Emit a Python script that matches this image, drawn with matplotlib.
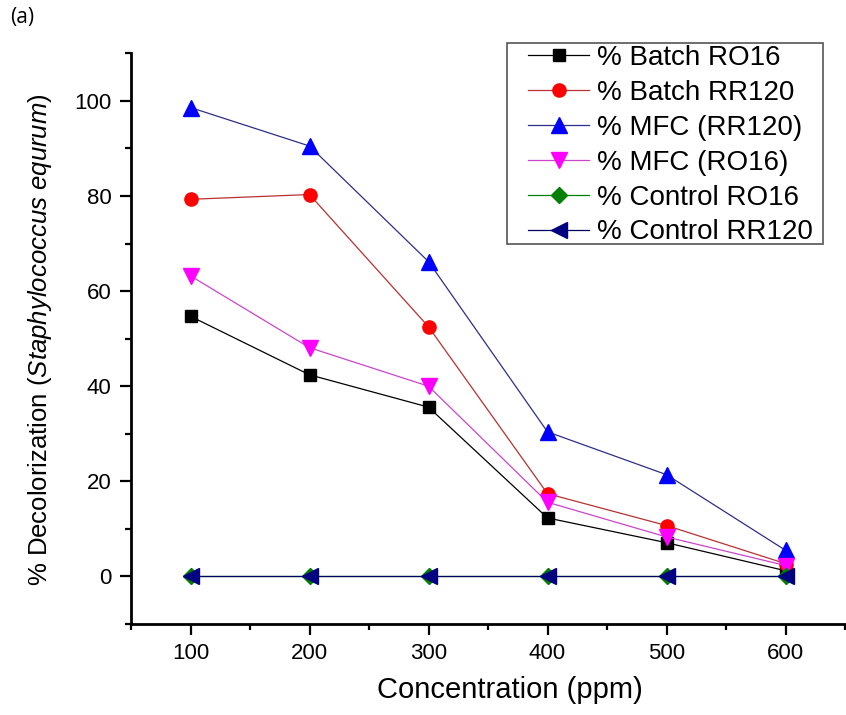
import matplotlib
matplotlib.use("Agg")
import matplotlib.pyplot as plt
from matplotlib.ticker import MultipleLocator
from matplotlib.patches import Rectangle

plt.rcParams['font.family'] = ['Liberation Sans', 'DejaVu Sans']
plt.rcParams['mathtext.fontset'] = 'custom'
plt.rcParams['mathtext.rm'] = 'Liberation Sans'
plt.rcParams['mathtext.it'] = 'Liberation Sans:italic'

concentration = [100, 200, 300, 400, 500, 600]
batch_ro16 = [54.7, 42.4, 35.6, 12.3, 7.1, 1.2]
batch_rr120 = [79.3, 80.3, 52.5, 17.4, 10.7, 2.7]
mfc_rr120 = [98.6, 90.5, 66.2, 30.4, 21.4, 5.5]
mfc_ro16 = [63.2, 48.1, 40.0, 15.6, 8.3, 2.3]
control_ro16 = [0, 0, 0, 0, 0, 0]
control_rr120 = [0, 0, 0, 0, 0, 0]

labels = ['% Batch RO16', '% Batch RR120', '% MFC (RR120)', '% MFC (RO16)',
          '% Control RO16', '% Control RR120']

W, H = 846, 715
fig = plt.figure(figsize=(W/100, H/100), dpi=100)
ax = fig.add_axes([131/W, 1-624/H, (845-131)/W, (624-53.3)/H])

series = [
    (batch_ro16, 's', 'black', 'black', 8.5),
    (batch_rr120, 'o', 'red', '#b83030', 9.5),
    (mfc_rr120, '^', 'blue', '#2e2e8a', 11),
    (mfc_ro16, 'v', 'magenta', '#cc44cc', 11),
    (control_ro16, 'D', 'green', 'green', 8),
    (control_rr120, '<', 'navy', '#000060', 11),
]
for (vals, mk, mc, lc, ms), lab in zip(series, labels):
    ax.plot(concentration, vals, color=lc, lw=0.9, marker=mk, ms=ms,
            markerfacecolor=mc, markeredgecolor=mc, label=lab)

ax.set_xlim(50, 650)
ax.set_ylim(-10, 110)
ax.xaxis.set_minor_locator(MultipleLocator(50))
ax.yaxis.set_minor_locator(MultipleLocator(10))
ax.set_xticks([100, 200, 300, 400, 500, 600])
ax.set_yticks([0, 20, 40, 60, 80, 100])

for s in ['top', 'right']:
    ax.spines[s].set_visible(False)
for s in ['left', 'bottom']:
    ax.spines[s].set_linewidth(2)
ax.tick_params(which='major', direction='out', length=8, width=1.6, labelsize=16, pad=6)
ax.tick_params(which='minor', direction='out', length=4, width=1.6)

ax.set_xlabel('Concentration (ppm)', fontsize=21)
ax.xaxis.set_label_coords((510-131)/(845-131), -(690-624)/(624-53.3))
ax.xaxis.label.set_va('center')
ax.set_ylabel(r'% Decolorization ($\mathit{Staphylococcus\ equrum}$)', fontsize=18.5)
ax.yaxis.set_label_coords(-(131-40)/(845-131), (624-340)/(624-53.3))
ax.yaxis.label.set_va('center')

leg = ax.legend(loc='upper left', bbox_to_anchor=(528/W, 1-45/H),
                bbox_transform=fig.transFigure, borderaxespad=0,
                fontsize=20, frameon=False,
                handlelength=2.2, handletextpad=0.29, labelspacing=0.32,
                borderpad=0)
fig.patches.append(Rectangle((507/W, 1-244/H), (823-507)/W, (244-43)/H,
                             transform=fig.transFigure, fill=False,
                             edgecolor='#555555', linewidth=1.2))

fig.text(10/W, 1-18/H, '(a)', fontsize=15, va='center', ha='left',
         family=['Open Sans', 'DejaVu Sans'])

fig.savefig('out.png', dpi=100)
